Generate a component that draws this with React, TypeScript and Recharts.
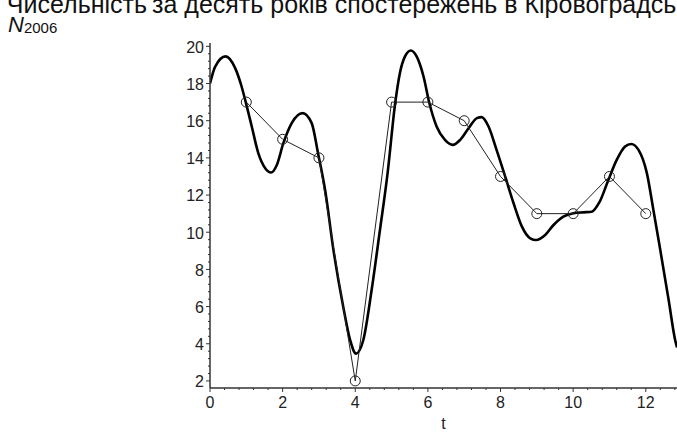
import { ComposedChart, Line, XAxis, YAxis } from "recharts";

// observed values, one per year
const obsT = [1, 2, 3, 4, 5, 6, 7, 8, 9, 10, 11, 12];
const obsN = [17, 15, 14, 2, 17, 17, 16, 13, 11, 11, 13, 11];

// smooth approximating curve
const curveT = [
  0, 0.14, 0.43, 0.69, 0.87, 0.98, 1.15, 1.33, 1.52, 1.68, 1.84, 2.02, 2.25, 2.55, 2.8, 2.98,
  3.17, 3.4, 3.67, 3.86, 4.02, 4.22, 4.45, 4.68, 4.89, 5.1, 5.23, 5.37, 5.53, 5.69, 5.88, 6.04,
  6.24, 6.47, 6.69, 6.89, 7.14, 7.35, 7.48, 7.67, 7.88, 8.13, 8.36, 8.59, 8.82, 8.98, 9.23, 9.46,
  9.73, 10.01, 10.28, 10.51, 10.72, 10.97, 11.2, 11.43, 11.6, 11.8, 12.03, 12.21, 12.4, 12.63,
  12.81, 12.86,
];
const curveN = [
  18.0, 18.9, 19.46, 18.84, 17.84, 17.03, 15.69, 14.25, 13.44, 13.21, 13.62, 14.79, 15.87, 16.41,
  15.87, 14.2, 12.27, 9.04, 5.98, 4.19, 3.47, 4.19, 6.88, 10.12, 13.17, 16.95, 18.57, 19.46, 19.78,
  19.46, 18.38, 16.95, 15.69, 14.97, 14.7, 14.97, 15.65, 16.14, 16.19, 15.69, 14.5, 12.99, 11.56,
  10.3, 9.67, 9.58, 9.85, 10.39, 10.84, 11.02, 11.07, 11.1, 11.6, 12.81, 13.89, 14.61, 14.75,
  14.43, 13.18, 11.2, 9.04, 6.35, 4.19, 3.8,
];

const xMajor = [0, 2, 4, 6, 8, 10, 12];
const yMajor = [2, 4, 6, 8, 10, 12, 14, 16, 18, 20];
const X_DOMAIN: [number, number] = [0, 12.86];
const Y_DOMAIN: [number, number] = [1.62, 20.18];

// minor ticks every 0.4 between the labelled ones
const withMinor = (major: number[], max: number) => {
  const out: number[] = [];
  major.forEach((m) => {
    for (let k = 0; k < 5; k++) {
      const v = +(m + k * 0.4).toFixed(2);
      if (v <= max) out.push(v);
    }
  });
  return out;
};
const xTicks = withMinor(xMajor, X_DOMAIN[1]);
const yTicks = withMinor(yMajor, Y_DOMAIN[1]);

const obsData = obsT.map((t, i) => ({ t, n: obsN[i] }));
const curveData = curveT.map((t, i) => ({ t, n: curveN[i] }));

const FONT = "'Liberation Sans', Arial, sans-serif";
const AXIS = "#333";
const isMajor = (v: number) => Math.abs(v - Math.round(v)) < 1e-6 && Math.round(v) % 2 === 0;

function XTick(props: any) {
  const { x, y, payload } = props;
  const v = payload.value;
  const major = isMajor(v);
  return (
    <g>
      <line x1={x} x2={x} y1={y} y2={y + (major ? 4 : 2)} stroke={AXIS} strokeWidth={1} />
      {major && (
        <text x={x} y={y + 9} dy="0.71em" textAnchor="middle" fontSize={16} fontFamily={FONT} fill="#222">
          {Math.round(v)}
        </text>
      )}
    </g>
  );
}

function YTick(props: any) {
  const { x, y, payload } = props;
  const v = payload.value;
  const major = isMajor(v);
  return (
    <g>
      <line x1={x} x2={x - (major ? 4 : 2)} y1={y} y2={y} stroke={AXIS} strokeWidth={1} />
      {major && (
        <text x={x - 6} y={y} dy="0.4em" textAnchor="end" fontSize={16} fontFamily={FONT} fill="#222">
          {Math.round(v)}
        </text>
      )}
    </g>
  );
}

export default function App() {
  return (
    <div
      style={{
        position: "absolute",
        left: 0,
        top: 0,
        width: 677,
        height: 432,
        overflow: "hidden",
        background: "#fff",
      }}
    >
      <ComposedChart width={677} height={432} margin={{ top: 43, right: 0, bottom: 0, left: 0 }}>
        <XAxis
          dataKey="t"
          type="number"
          domain={X_DOMAIN}
          ticks={xTicks}
          interval={0}
          allowDataOverflow
          height={44}
          tickSize={0}
          tickMargin={0}
          tickLine={false}
          tick={<XTick />}
          axisLine={{ stroke: AXIS, strokeWidth: 1.5 }}
          label={{ value: "t", position: "insideBottom", offset: 3, fontSize: 16, fill: "#222", fontFamily: FONT }}
        />
        <XAxis
          xAxisId="top"
          orientation="top"
          type="number"
          domain={[0, 1]}
          height={0}
          tick={false}
          tickLine={false}
          axisLine={{ stroke: "#444", strokeWidth: 2 }}
        />
        <YAxis
          type="number"
          domain={Y_DOMAIN}
          ticks={yTicks}
          interval={0}
          allowDataOverflow
          width={210}
          tickSize={0}
          tickMargin={0}
          tickLine={false}
          tick={<YTick />}
          axisLine={{ stroke: AXIS, strokeWidth: 1.5 }}
        />
        <Line
          data={curveData}
          dataKey="n"
          type="monotone"
          stroke="#000"
          strokeWidth={2.6}
          dot={false}
          activeDot={false}
          isAnimationActive={false}
        />
        <Line
          data={obsData}
          dataKey="n"
          type="linear"
          stroke="#222"
          strokeWidth={1}
          dot={{ r: 5, stroke: "#222", strokeWidth: 1, fill: "none" }}
          activeDot={false}
          isAnimationActive={false}
        />
      </ComposedChart>
      <svg
        width={677}
        height={432}
        style={{ position: "absolute", left: 0, top: 0, pointerEvents: "none" }}
      >
        {/* caption line is cut by the top edge, as in the source */}
        <text x={147} y={13} fontSize={25} fontFamily={FONT} fill="#111" textAnchor="end">
          3.6 Чисельність
        </text>
        <text x={152} y={13} fontSize={25} fontFamily={FONT} fill="#111">
          за десять років спостережень в Кіровоградській області
        </text>
        <text x={8} y={32} fontSize={22} fontFamily={FONT} fill="#111">
          <tspan fontStyle="italic">N</tspan>
          <tspan fontSize={15} dy={1}>2006</tspan>
        </text>
      </svg>
    </div>
  );
}
